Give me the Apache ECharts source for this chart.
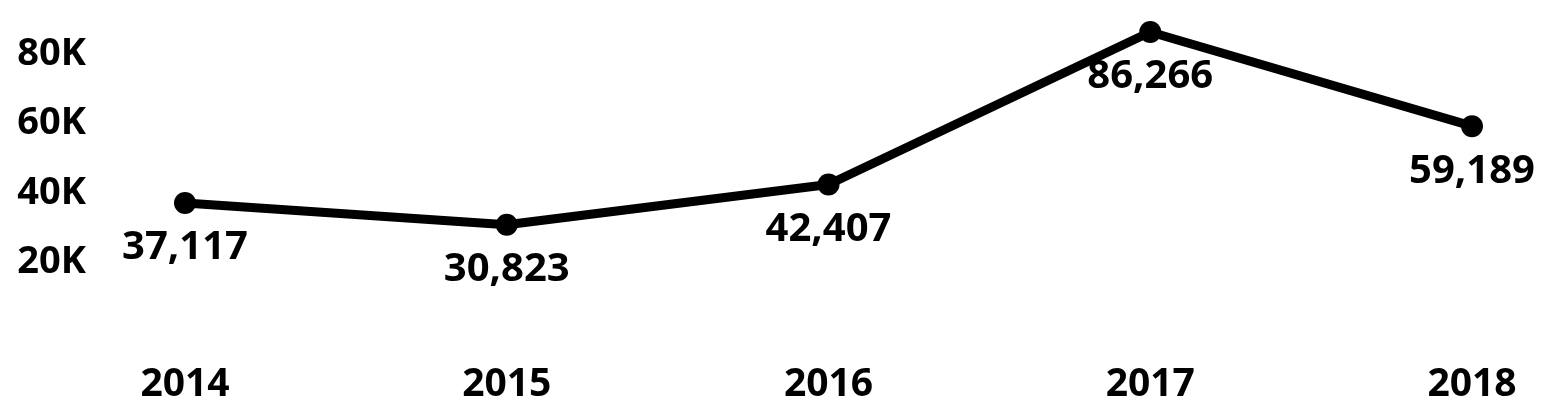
<!DOCTYPE html>
<html>
<head>
<meta charset="utf-8">
<script src="https://cdn.jsdelivr.net/npm/echarts@6/dist/echarts.min.js"></script>
<style>
  html, body { margin: 0; padding: 0; background: #fff; }
  #chart { width: 1561px; height: 419px; }
</style>
</head>
<body>
<div id="chart"></div>
<script>
var years = ["2014", "2015", "2016", "2017", "2018"];
var values = [37117, 30823, 42407, 86266, 59189];
var yTicks = [20000, 40000, 60000, 80000];

var myChart = echarts.init(document.getElementById("chart"));
var font = "'Open Sans', sans-serif";

var option = {
  backgroundColor: "#ffffff",
  animation: false,
  grid: {
    left: 185,
    right: 89,
    top: 19,
    bottom: 87
  },
  xAxis: {
    type: "category",
    boundaryGap: false,
    data: years,
    axisLine: { show: false },
    axisTick: { show: false },
    splitLine: { show: false },
    axisLabel: {
      margin: 33,
      color: "#000",
      fontFamily: font,
      fontWeight: "bold",
      fontSize: 39
    }
  },
  yAxis: {
    type: "value",
    min: 0,
    max: 90000,
    interval: 20000,
    axisLine: { show: false },
    axisTick: { show: false },
    splitLine: { show: false },
    axisLabel: {
      margin: 99,
      color: "#000",
      fontFamily: font,
      fontWeight: "bold",
      fontSize: 38,
      formatter: function (v) {
        // only the ticks shown in the picture
        return yTicks.indexOf(v) >= 0 ? (v / 1000) + "K" : "";
      }
    }
  },
  series: [
    {
      type: "line",
      data: values,
      smooth: false,
      symbol: "circle",
      symbolSize: 22,
      itemStyle: { color: "#000" },
      lineStyle: { color: "#000", width: 9 },
      label: {
        show: true,
        position: "bottom",
        distance: 14,
        color: "#000",
        fontFamily: font,
        fontWeight: "bold",
        fontSize: 40,
        formatter: function (p) {
          return p.value.toLocaleString("en-US");
        }
      }
    }
  ]
};
myChart.setOption(option);
</script>
</body>
</html>
